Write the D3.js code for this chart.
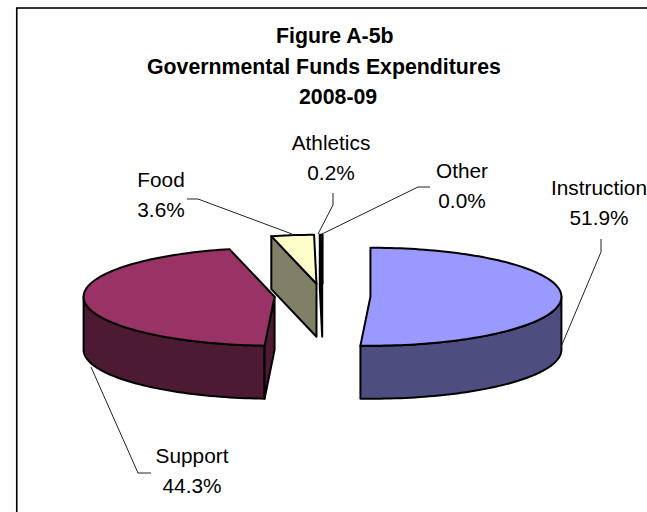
<!DOCTYPE html>
<html><head><meta charset="utf-8">
<style>html,body{margin:0;padding:0;background:#fff;overflow:hidden}svg{display:block}text{font-family:"Liberation Sans",Arial,sans-serif;fill:#000}</style>
<script src="https://cdn.jsdelivr.net/npm/d3@7/dist/d3.min.js"></script>
</head><body><svg id="c" width="647" height="512"></svg>
<script>
const categories = ["Instruction","Support","Food","Athletics","Other"];
const shares = [51.9,44.3,3.6,0.2,0.0];
const topColors = ["#9999FF","#993366","#FFFFCC","#CCFFFF","#660066"];
const wallColors = ["#4D4D80","#4D1A33","#808066","#000000","#000000"];
const titleLines = ["Figure A-5b","Governmental Funds Expenditures","2008-09"];
const titleLeft = [276,147,299];
const labelAnchors = [[599,195],[192,463],[161,187],[331,150],[462,178]];
const leaders = [
  [[601,239],[601,252],[561,347]],
  [[151,473],[138,473],[91,367]],
  [[187,199],[198,199],[292,234]],
  [[333,193],[333,205],[318,234]],
  [[430,187],[418,187],[322,234]]
];

const W=647,H=512,cx=322.5,cy=296,rx=191,ry=49,depth=53,explode=48,fs=20.8;
const svg=d3.select("#c");
// Excel's 3-D pie draws the front boundary slightly rotated
const deg=Math.PI/180;
const warp=d3.scaleLinear().domain([0,90,186.84,270,360].map(d=>d*deg)).range([0,90,183,270,360].map(d=>d*deg));
const pie=d3.pie().sort(null).startAngle(0).endAngle(2*Math.PI);
const arcs=pie(shares);
const line=d3.line();
const px=(o,t,dz=0)=>[o[0]+rx*Math.sin(t),o[1]-ry*Math.cos(t)+dz];
const sample=(a,b)=>{const n=Math.max(2,Math.ceil(Math.abs(b-a)/(1.5*deg)));return d3.range(n+1).map(i=>a+(b-a)*i/n);};

svg.append("rect").attr("x",16.75).attr("y",8).attr("width",800).attr("height",700)
  .attr("fill","#fff").attr("stroke","#000").attr("stroke-width",1.6);

svg.selectAll("text.title").data(titleLines).join("text").attr("class","title")
  .attr("x",(d,i)=>titleLeft[i]).attr("y",(d,i)=>43+i*30.5)
  .attr("font-weight","bold").attr("font-size",21.3).text(d=>d);

const order=[1,2,3,4,0];
const style=s=>s.attr("stroke","#000").attr("stroke-width",2).attr("stroke-linejoin","round");
order.forEach(i=>{
  const d=arcs[i],mid=(d.startAngle+d.endAngle)/2;
  const o=[cx+explode*Math.sin(mid),cy-explode*(ry/rx)*Math.cos(mid)];
  const a0=warp(d.startAngle),a1=warp(d.endAngle);
  const g=svg.append("g");
  // outer wall, front half of the rim only
  const w0=Math.max(a0,Math.PI/2),w1=Math.min(a1,1.5*Math.PI);
  if(w1>w0){
    const ts=sample(w0,w1);
    const pts=ts.map(t=>px(o,t)).concat(ts.slice().reverse().map(t=>px(o,t,depth)));
    g.append("path").attr("d",line(pts)+"Z").attr("fill",wallColors[i]).call(style);
  }
  // cut face on the start edge, when it turns toward the viewer
  if(Math.sin(a0)<0){
    const p=px(o,a0);
    g.append("path").attr("d",line([o,p,[p[0],p[1]+depth],[o[0],o[1]+depth]])+"Z")
      .attr("fill",wallColors[i]).call(style);
  }
  const face=[o].concat(sample(a0,a1).map(t=>px(o,t)));
  g.append("path").attr("d",line(face)+"Z").attr("fill",topColors[i]).call(style);
});

leaders.forEach(l=>{
  svg.append("path").attr("d",line(l)).attr("fill","none").attr("stroke","#222").attr("stroke-width",1);
});

const fmt=d3.format(".1f");
categories.forEach((c,i)=>{
  const t=svg.append("text").attr("text-anchor","middle").attr("font-size",fs);
  t.append("tspan").attr("x",labelAnchors[i][0]).attr("y",labelAnchors[i][1]).text(c);
  t.append("tspan").attr("x",labelAnchors[i][0]).attr("y",labelAnchors[i][1]+30).text(fmt(shares[i])+"%");
});
</script></body></html>
